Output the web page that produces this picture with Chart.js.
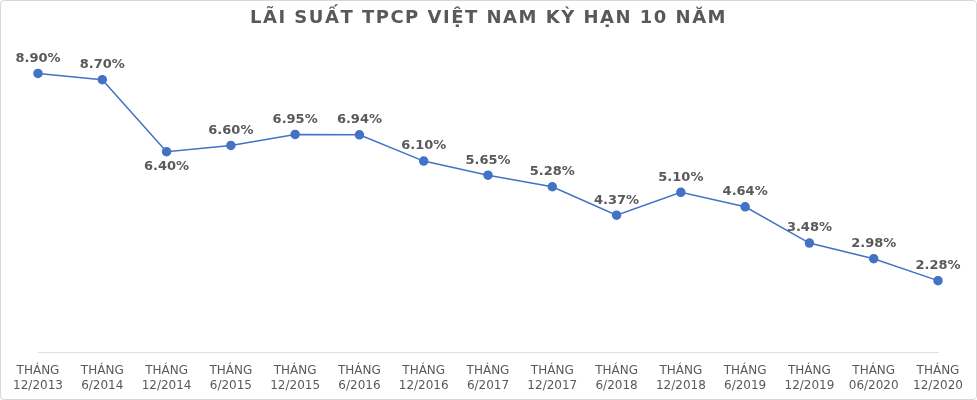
<!DOCTYPE html>
<html>
<head>
<meta charset="utf-8">
<script src="https://cdn.jsdelivr.net/npm/chart.js@4"></script>
<style>
  body { margin: 0; background: #fff; }
  #wrap { position: relative; width: 975px; height: 398px; border: 1px solid #d9d9d9; border-radius: 4px; }
</style>
</head>
<body>
<div id="wrap"><canvas id="c"></canvas></div>
<script>
var title = 'LÃI SUẤT TPCP VIỆT NAM KỲ HẠN 10 NĂM';
var labels = [["THÁNG","12/2013"],["THÁNG","6/2014"],["THÁNG","12/2014"],["THÁNG","6/2015"],["THÁNG","12/2015"],
              ["THÁNG","6/2016"],["THÁNG","12/2016"],["THÁNG","6/2017"],["THÁNG","12/2017"],["THÁNG","6/2018"],
              ["THÁNG","12/2018"],["THÁNG","6/2019"],["THÁNG","12/2019"],["THÁNG","06/2020"],["THÁNG","12/2020"]];
var rates = [8.90, 8.70, 6.40, 6.60, 6.95, 6.94, 6.10, 5.65, 5.28, 4.37, 5.10, 4.64, 3.48, 2.98, 2.28];
var belowPoints = [2];

var FONT = "'DejaVu Sans', Verdana, sans-serif";

var decorations = {
    id: 'decorations',
    afterDraw: function(chart)
    {
        var ctx = chart.ctx;
        var meta = chart.getDatasetMeta(0);
        ctx.save();
        ctx.fillStyle = '#595959';
        ctx.textAlign = 'center';
        ctx.textBaseline = 'middle';

        // title
        ctx.font = 'bold 18px ' + FONT;
        ctx.letterSpacing = '1.5px';
        ctx.fillText(title, chart.width / 2, 17);
        ctx.letterSpacing = '0px';

        // point labels
        ctx.font = 'bold 13px ' + FONT;
        for (var i = 0; i < meta.data.length; i++)
        {
            var p = meta.data[i];
            var dy = belowPoints.indexOf(i) >= 0 ? 15 : -15;
            ctx.fillText(rates[i].toFixed(2) + '%', p.x, p.y + dy);
        }
        ctx.restore();
    }
};

new Chart(document.getElementById('c'), {
    type: 'line',
    data: {
        labels: labels,
        datasets: [{
            data: rates,
            borderColor: '#4472c4',
            backgroundColor: '#4472c4',
            borderWidth: 1.5,
            pointRadius: 4,
            pointBackgroundColor: '#4472c4',
            tension: 0
        }]
    },
    options: {
        responsive: true,
        maintainAspectRatio: false,
        animation: false,
        layout: { padding: { left: 37, right: 38, top: 38, bottom: 3 } },
        plugins: {
            legend: { display: false },
            tooltip: { enabled: false },
            title: { display: false }
        },
        scales: {
            x: {
                offset: false,
                grid: { display: false },
                border: { color: '#e0e0e0' },
                ticks: { color: '#595959', font: { family: FONT, size: 12, lineHeight: 1.25 }, maxRotation: 0, autoSkip: false, padding: 3 }
            },
            y: {
                display: false,
                min: 0,
                max: 10
            }
        }
    },
    plugins: [decorations]
});
</script>
</body>
</html>
